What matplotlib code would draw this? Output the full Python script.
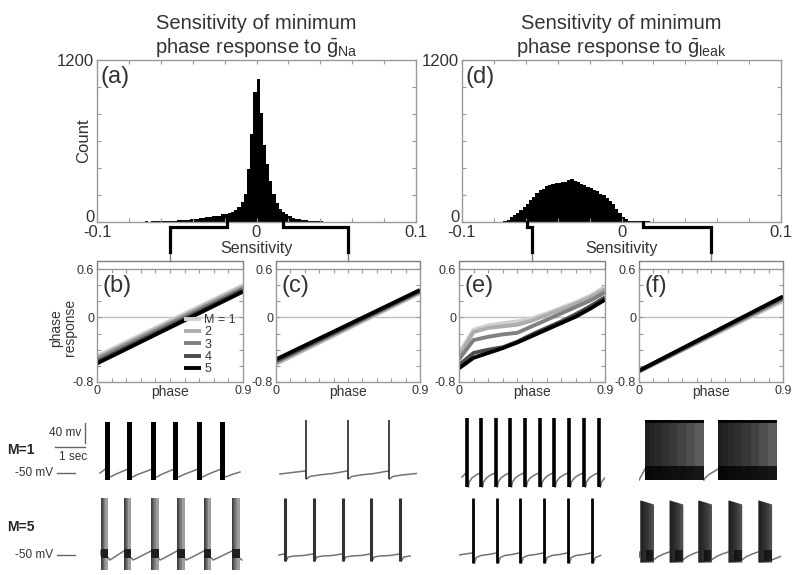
import numpy as np
import matplotlib.pyplot as plt
from matplotlib.transforms import ScaledTranslation

plt.rcParams['font.family'] = ['Liberation Sans', 'DejaVu Sans']
plt.rcParams['mathtext.fontset'] = 'custom'
plt.rcParams['mathtext.rm'] = 'Liberation Sans'
plt.rcParams['mathtext.it'] = 'Liberation Sans:italic'
plt.rcParams['mathtext.bf'] = 'Liberation Sans:bold'

TXT = '0.2'
EDGE = '0.6'

# ---------------- histogram data (bins of 0.002 starting at -0.080) ----------------
bin_left = -0.080
bin_width = 0.002
count_na = [1, 2, 1, 3, 2, 4, 3, 5, 6, 5,
            7, 8, 7, 10, 11, 13, 12, 15, 17, 19,
            21, 23, 27, 29, 34, 36, 41, 45, 48, 56,
            60, 70, 76, 92, 112, 145, 210, 390, 650, 960,
            1060, 810, 570, 430, 300, 205, 140, 98, 72, 56,
            41, 33, 25, 20, 16, 12, 10, 7, 6, 4,
            4, 3, 2, 2, 1, 1, 1, 0, 0, 0]
count_leak = [0, 0, 1, 6, 18, 35, 52, 70, 88, 112,
              133, 162, 185, 212, 238, 248, 265, 272, 281, 290,
              286, 298, 296, 310, 318, 300, 296, 283, 276, 260,
              252, 236, 226, 210, 198, 178, 158, 130, 98, 66,
              38, 20, 11, 7, 6, 5, 5, 4, 4, 3,
              3, 3, 2, 2, 2, 2, 1, 1, 1, 1,
              1, 0, 0, 0, 0, 0, 0, 0, 0, 0]
# inner edge of the tail each lower panel was taken from
tail_na = [-0.0185, 0.0168]
tail_leak = [-0.059, 0.0137]

# ---------------- phase response curves ----------------
phase = [0, 0.09, 0.18, 0.27, 0.36, 0.45, 0.54, 0.63, 0.72, 0.81, 0.9]
phase_ends = [0, 0.9]
m_labels = ['M = 1', '2', '3', '4', '5']
m_colors = ['0.82', '0.68', '0.5', '0.3', '0.0']
pr_b = [[-0.48, 0.40], [-0.50, 0.38], [-0.52, 0.36], [-0.55, 0.34], [-0.57, 0.32]]
pr_c = [[-0.58, 0.30], [-0.57, 0.31], [-0.55, 0.32], [-0.54, 0.33], [-0.52, 0.34]]
pr_e = [[-0.44, -0.15, -0.10, -0.07, -0.05, -0.01, 0.05, 0.12, 0.19, 0.27, 0.38],
        [-0.48, -0.18, -0.13, -0.11, -0.09, -0.04, 0.03, 0.10, 0.17, 0.25, 0.35],
        [-0.52, -0.28, -0.24, -0.21, -0.19, -0.11, -0.03, 0.05, 0.13, 0.21, 0.31],
        [-0.59, -0.44, -0.40, -0.37, -0.30, -0.21, -0.13, -0.05, 0.04, 0.14, 0.25],
        [-0.63, -0.50, -0.44, -0.38, -0.31, -0.23, -0.15, -0.07, 0.01, 0.11, 0.22]]
pr_f = [[-0.67, 0.20], [-0.67, 0.22], [-0.67, 0.23], [-0.66, 0.25], [-0.66, 0.26]]

# ---------------- voltage traces (time in s, voltage in mV) ----------------
ramp_frac = [0, 0.08, 0.3, 0.65, 1.0]   # where the ramp points sit between events

b1_times = [0.26, 0.99, 1.79, 2.52, 3.31, 4.07]
b1_ramp = [-58, -57, -53, -48, -43]
b5_times = [0.13, 0.89, 1.79, 2.65, 3.54, 4.47]
b5_ramp = [-56, -60, -56, -49, -42]
c1_times = [0.96, 2.35, 3.71]
c1_ramp = [-62, -57, -54, -51, -46]
c5_times = [0.27, 1.22, 2.18, 3.12, 4.09]
c5_ramp = [-62, -54, -52, -51, -48]
e1_times = [0.23, 0.70, 1.19, 1.66, 2.15, 2.65, 3.11, 3.61, 4.11, 4.60]
e1_ramp = [-78, -68, -60, -54, -50]
e5_times = [0.43, 1.23, 1.99, 2.78, 3.58, 4.37]
e5_ramp = [-66, -55, -51, -49, -46]
f1_times = [0.20, 2.62]
f1_ramp = [-64, -60, -54, -48, -42]
f5_times = [0.03, 1.00, 1.95, 2.95, 3.94]
f5_ramp = [-60, -58, -53, -48, -44]


def shade(base, alpha, widths):
    # grey burst band, darkened towards its left edge by stacked translucent strips
    return [(0, 1, None, None, base, 1)] + [(0, w, None, None, 'k', alpha) for w in widths]


b1_look = [(0, 1, None, None, 'k', 1)]
b5_look = shade('0.62', 0.2, (0.6, 0.45, 0.3, 0.15)) + [(0, 1, -56, -38, '0.12', 1)]
f1_look = shade('0.42', 0.14, (1.0, 0.85, 0.7, 0.55, 0.4, 0.28, 0.16, 0.06)) + \
    [(0, 1, -64, -36, 'k', 0.75), (0, 1, 50, None, 'k', 0.9)]
f5_look = shade('0.38', 0.18, (1.0, 0.8, 0.6, 0.4, 0.2)) + [(0.45, 1, -62, -40, 'k', 0.6)]

# column, row, times, duration, top (left,right), bottom, ramp, start t, start v, end t, look
trace_specs = [
    (0, 0, b1_times, 0.17, (52, 52), -64, b1_ramp, 0.10, -50, 4.8, b1_look),
    (0, 1, b5_times, 0.25, (64, 64), -80, b5_ramp, 0.13, -50, 4.8, b5_look),
    (1, 0, c1_times, 0.05, (56, 56), -62, c1_ramp, 0.13, -52, 4.8, ('0.15', 1.2)),
    (1, 1, c5_times, 0.06, (64, 64), -62, c5_ramp, 0.10, -50, 4.75, ('0.2', 2.2)),
    (2, 0, e1_times, 0.08, (60, 60), -78, e1_ramp, 0.10, -58, 4.85, ('k', 2.6)),
    (2, 1, e5_times, 0.08, (64, 64), -66, e5_ramp, 0.00, -50, 4.75, ('k', 2.0)),
    (3, 0, f1_times, 1.95, (56, 56), -64, f1_ramp, 0.00, -64, 4.6, f1_look),
    (3, 1, f5_times, 0.45, (60, 52), -64, f5_ramp, 0.00, -55, 4.7, f5_look),
]

# ---------------- layout (pixels) ----------------
W, H = 800, 575
fig = plt.figure(figsize=(W / 100, H / 100), dpi=100)


def add_ax(l, t, r, b):
    return fig.add_axes([l / W, 1 - b / H, (r - l) / W, (b - t) / H])


def style_box(ax, size):
    for s in ax.spines.values():
        s.set_color(EDGE)
        s.set_linewidth(1)
    ax.tick_params(direction='in', top=True, right=True, length=3, width=0.8,
                   color=EDGE, labelcolor=TXT, labelsize=size, pad=2)


hist_boxes = [(97, 60, 416, 222), (462, 60, 781, 222)]
small_top, small_bot = 269, 382
small_lr = [(97, 243), (276, 420), (459, 605), (639, 783)]
trace_rows = [(412, 490, 473), (493, 575, 555)]   # top, bottom, -50 mV level
MV_PER_PX = 2.0

titles = ['Sensitivity of minimum\nphase response to $\\bar{\\mathrm{g}}_{\\mathrm{Na}}$',
          'Sensitivity of minimum\nphase response to $\\bar{\\mathrm{g}}_{\\mathrm{leak}}$']

# ---------------- histograms ----------------
edges = bin_left + bin_width * np.arange(len(count_na) + 1)
lift = ScaledTranslation(0, 4 / 72, fig.dpi_scale_trans)
hist_axes = []
for i, counts in enumerate([count_na, count_leak]):
    ax = add_ax(*hist_boxes[i])
    ax.stairs(counts, edges, fill=True, color='k', lw=0.6)
    ax.set_xlim(-0.1, 0.1)
    ax.set_ylim(0, 1200)
    ax.set_xticks(np.linspace(-0.1, 0.1, 11))
    ax.set_xticklabels(['-0.1', '', '', '', '', '0', '', '', '', '', '0.1'])
    ax.set_yticks(np.linspace(0, 1200, 7))
    ax.set_yticklabels(['0', '', '', '', '', '', '1200'])
    style_box(ax, 12)
    zero_lab = ax.get_yticklabels()[0]
    zero_lab.set_transform(zero_lab.get_transform() + lift)
    ax.text(0.5, -0.163, 'Sensitivity', transform=ax.transAxes, ha='center',
            va='center', fontsize=11.5, color=TXT)
    ax.text(0.01, 0.965, '(' + 'ad'[i] + ')', transform=ax.transAxes,
            ha='left', va='top', fontsize=17, color=TXT)
    ax.set_title(titles[i], fontsize=14.5, color=TXT, pad=5, linespacing=1.2)
    hist_axes.append(ax)
hist_axes[0].text(-0.041, 0.5, 'Count', transform=hist_axes[0].transAxes,
                  rotation=90, ha='center', va='center', fontsize=12, color=TXT)

# ---------------- phase response panels ----------------
small_axes = []
for j, (curves, xs) in enumerate([(pr_b, phase_ends), (pr_c, phase_ends),
                                  (pr_e, phase), (pr_f, phase_ends)]):
    l, r = small_lr[j]
    ax = add_ax(l, small_top, r, small_bot)
    ax.axhline(0, color='0.75', lw=1, zorder=0)
    handles = []
    for k, ys in enumerate(curves):
        h, = ax.plot(xs, ys, color=m_colors[k], lw=2.8, solid_capstyle='butt')
        handles.append(h)
    ax.set_xlim(0, 0.9)
    ax.set_ylim(-0.8, 0.6)
    ax.set_xticks(np.linspace(0, 0.9, 11))
    ax.set_xticklabels(['0'] + [''] * 9 + ['0.9'])
    ax.set_yticks(np.linspace(-0.8, 0.6, 8))
    ax.set_yticklabels(['-0.8', '', '', '', '0', '', '', '0.6'])
    style_box(ax, 9)
    ax.text(0.5, -0.025, 'phase', transform=ax.transAxes, ha='center', va='top',
            fontsize=10, color=TXT)
    ax.text(0.035, 0.947, '(' + 'bcef'[j] + ')', transform=ax.transAxes,
            ha='left', va='top', fontsize=17, color=TXT)
    if j == 0:
        ax.legend(handles, m_labels, loc='lower right', frameon=False, fontsize=9,
                  handlelength=1.3, handletextpad=0.3, labelspacing=0.02,
                  borderaxespad=0.15, labelcolor=TXT)
        ax.text(-0.23, 0.48, 'phase\nresponse', transform=ax.transAxes,
                rotation=90, ha='center', va='center', fontsize=10,
                linespacing=1.0, color=TXT)
    small_axes.append(ax)

# ---------------- voltage traces ----------------
trace_axes = {}
for row, (t_px, b_px, z_px) in enumerate(trace_rows):
    for col, (l, r) in enumerate(small_lr):
        ax = add_ax(l, t_px, r, b_px)
        ax.set_xlim(0, (r - l) / 30.2)
        ax.set_ylim(-50 - (b_px - z_px) * MV_PER_PX, -50 + (z_px - t_px) * MV_PER_PX)
        ax.axis('off')
        trace_axes[(col, row)] = ax

for (col, row, times, dur, top, bot, ramp, t0, v0, t_end, look) in trace_specs:
    ax = trace_axes[(col, row)]
    ends = [t + dur for t in times]
    nexts = times[1:] + [ends[-1] + (times[-1] - times[-2])]
    ts, vs = [t0, times[0]], [v0, ramp[-1]]
    for e, n in zip(ends, nexts):
        ts.append(np.nan)
        vs.append(np.nan)
        for f, v in zip(ramp_frac, ramp):
            t = e + f * (n - e)
            ts.append(t if t <= t_end else np.nan)
            vs.append(v)
    ax.plot(ts, vs, color='0.45', lw=1.1, zorder=1)
    if isinstance(look, tuple):
        ax.vlines([t + dur / 2 for t in times], bot, top[0], color=look[0],
                  lw=look[1], zorder=2)
    else:
        for t in times:
            for f0, f1, lo, hi, colr, a in look:
                x0, x1 = t + f0 * dur, t + f1 * dur
                lo_v = bot if lo is None else lo
                if hi is None:
                    hi_v = [top[0] + (top[1] - top[0]) * f0, top[0] + (top[1] - top[0]) * f1]
                else:
                    hi_v = [hi, hi]
                ax.fill_between([x0, x1], [lo_v, lo_v], hi_v, color=colr, alpha=a,
                                lw=0, zorder=2)

# labels, -50 mV markers and scale bar
for row, yl in enumerate([450, 527]):
    fig.text(7 / W, 1 - yl / H, 'M=%d' % [1, 5][row], fontsize=10, weight='bold',
             va='center', ha='left', color='0.15')
    ax = trace_axes[(0, row)]
    ax.plot([-1.32, -0.73], [-50, -50], color='0.4', lw=1, clip_on=False)
    ax.text(-1.45, -50, '-50 mV', ha='right', va='center', fontsize=8.5, color=TXT)
ax = trace_axes[(0, 0)]
ax.plot([-0.40, -0.40], [10, 50], color='0.4', lw=1, clip_on=False)
ax.plot([-1.40, -0.40], [2, 2], color='0.4', lw=1, clip_on=False)
ax.text(-0.52, 30, '40 mv', ha='right', va='center', fontsize=8.5, color=TXT)
ax.text(-0.78, -18, '1 sec', ha='center', va='center', fontsize=8.5, color=TXT)

# ---------------- brackets linking tails to lower panels ----------------
over = fig.add_axes([0, 0, 1, 1])
over.set_xlim(0, W)
over.set_ylim(H, 0)
over.axis('off')
to_px = over.transData.inverted()
y_hist = hist_boxes[0][3]
y_step, y_thin, y_brk = y_hist + 5, small_top - 17, small_top - 8
links = [(0, tail_na[0], 0), (0, tail_na[1], 1), (1, tail_leak[0], 2), (1, tail_leak[1], 3)]
for hi, xval, j in links:
    x_up = to_px.transform(hist_axes[hi].transData.transform((xval, 0)))[0]
    l, r = small_lr[j]
    xc = (l + r) / 2
    over.plot([l, l, r, r], [small_top - 1, y_brk, y_brk, small_top - 1], color='0.5', lw=1)
    over.plot([xc, xc], [y_thin, y_brk], color='0.5', lw=1)
    over.plot([x_up, x_up, xc, xc], [y_hist, y_step, y_step, y_thin], color='k', lw=2.3,
              solid_joinstyle='miter')

fig.savefig('out.png', dpi=100)
